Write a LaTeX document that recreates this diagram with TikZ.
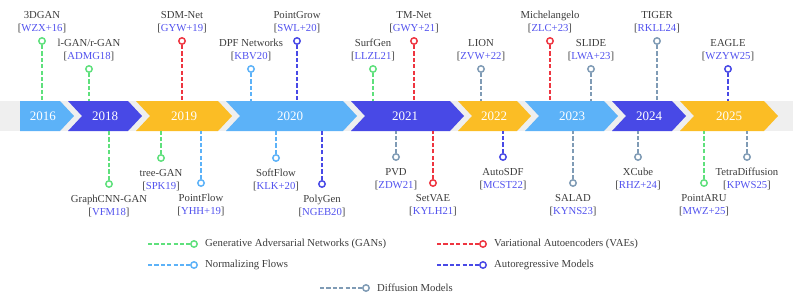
\documentclass[tikz,border=0pt]{standalone}
\usepackage{fontspec}
\setmainfont{Liberation Serif}
\definecolor{lblue}{HTML}{5CB2F8}
\definecolor{dblue}{HTML}{4849E6}
\definecolor{yel}{HTML}{FBBD25}
\definecolor{bandgray}{HTML}{EFEFEF}
\definecolor{gan}{HTML}{5EE07C}
\definecolor{vae}{HTML}{EE3540}
\definecolor{nf}{HTML}{5CB2F8}
\definecolor{ar}{HTML}{4849E6}
\definecolor{dm}{HTML}{7F9BB5}
\definecolor{refblue}{HTML}{5252EE}
\definecolor{txt}{HTML}{3C3C3C}
\tikzset{
 stemline/.style={line width=2.1pt, dash pattern=on 4.2pt off 2.2pt},
 dot/.style={circle, draw=#1, fill=white, line width=1.5pt, minimum size=6.4pt, inner sep=0pt},
 lbl/.style={text=txt, font=\fontsize{10.7}{13}\selectfont, inner sep=0pt, anchor=base},
 yr/.style={text=white, font=\fontsize{13}{15}\selectfont, inner sep=0pt},
}
\newcommand\rf[1]{[{\color{refblue}#1}]}
\newcommand\topitem[6]{%
  \coordinate (#1b) at (#2,101);
  \node[dot=#4] (#1c) at (#2,#3) {};
  \draw[stemline,#4] (#1c) -- (#1b);
  \node[lbl] (#1t) at (#2,#3-22.5) {#5};
  \node[lbl] (#1r) at (#2,#3-9.5) {\rf{#6}};
}
\newcommand\botitem[6]{%
  \coordinate (#1b) at (#2,131);
  \node[dot=#4] (#1c) at (#2,#3) {};
  \draw[stemline,#4] (#1c) -- (#1b);
  \node[lbl] (#1t) at (#2,#3+18) {#5};
  \node[lbl] (#1r) at (#2,#3+31) {\rf{#6}};
}
\newcommand\chev[3]{%
  \fill[#3] (#1,101) -- (#2,101) -- (#2+14,116) -- (#2,131) -- (#1,131) -- (#1+14,116) -- cycle;
}
\newcommand\legitem[5]{%
  \coordinate (#1s) at (#2,#3);
  \node[dot=#4] (#1c) at (#2+46,#3) {};
  \draw[stemline,#4] (#1s) -- (#1c);
  \node[lbl,anchor=west] (#1t) at (#2+57,#3) {#5};
}
\begin{document}
\begin{tikzpicture}[x=1pt,y=-1pt]
\useasboundingbox (0,0) rectangle (793,300);
% band
\fill[bandgray] (0,101) rectangle (793,131);
\fill[lblue] (20,101) -- (60,101) -- (74,116) -- (60,131) -- (20,131) -- cycle;
\chev{68}{128}{dblue}
\chev{136}{218}{yel}
\chev{226}{343}{lblue}
\chev{351}{450}{dblue}
\chev{458}{517}{yel}
\chev{525}{604}{lblue}
\chev{612}{672}{dblue}
\chev{680}{764}{yel}
\node[yr] (y16) at (43,116) {2016};
\node[yr] (y18) at (105,116) {2018};
\node[yr] (y19) at (184,116) {2019};
\node[yr] (y20) at (290,116) {2020};
\node[yr] (y21) at (405,116) {2021};
\node[yr] (y22) at (494,116) {2022};
\node[yr] (y23) at (572,116) {2023};
\node[yr] (y24) at (649,116) {2024};
\node[yr] (y25) at (729,116) {2025};
% top items
\topitem{a}{42}{41}{gan}{3DGAN}{WZX+16}
\topitem{b}{89}{69}{gan}{l-GAN/r-GAN}{ADMG18}
\topitem{c}{182}{41}{vae}{SDM-Net}{GYW+19}
\topitem{d}{251}{69}{nf}{DPF Networks}{KBV20}
\topitem{e}{297}{41}{ar}{PointGrow}{SWL+20}
\topitem{f}{373}{69}{gan}{SurfGen}{LLZL21}
\topitem{g}{414}{41}{vae}{TM-Net}{GWY+21}
\topitem{h}{481}{69}{dm}{LION}{ZVW+22}
\topitem{i}{550}{41}{vae}{Michelangelo}{ZLC+23}
\topitem{j}{591}{69}{dm}{SLIDE}{LWA+23}
\topitem{k}{657}{41}{dm}{TIGER}{RKLL24}
\topitem{l}{728}{69}{ar}{EAGLE}{WZYW25}
% bottom items
\botitem{m}{109}{184}{gan}{GraphCNN-GAN}{VFM18}
\botitem{n}{161}{158}{gan}{tree-GAN}{SPK19}
\botitem{o}{201}{183}{nf}{PointFlow}{YHH+19}
\botitem{p}{276}{158}{nf}{SoftFlow}{KLK+20}
\botitem{q}{322}{184}{ar}{PolyGen}{NGEB20}
\botitem{r}{396}{157}{dm}{PVD}{ZDW21}
\botitem{s}{433}{183}{vae}{SetVAE}{KYLH21}
\botitem{t}{503}{157}{ar}{AutoSDF}{MCST22}
\botitem{u}{573}{183}{dm}{SALAD}{KYNS23}
\botitem{v}{638}{157}{dm}{XCube}{RHZ+24}
\botitem{w}{704}{183}{gan}{PointARU}{MWZ+25}
\botitem{x}{747}{157}{dm}{TetraDiffusion}{KPWS25}
% legend
\legitem{lga}{148}{244}{gan}{Generative Adversarial Networks (GANs)}
\legitem{lgb}{437}{244}{vae}{Variational Autoencoders (VAEs)}
\legitem{lgc}{148}{265}{nf}{Normalizing Flows}
\legitem{lgd}{437}{265}{ar}{Autoregressive Models}
\legitem{lge}{320}{288}{dm}{Diffusion Models}
\end{tikzpicture}
\end{document}
